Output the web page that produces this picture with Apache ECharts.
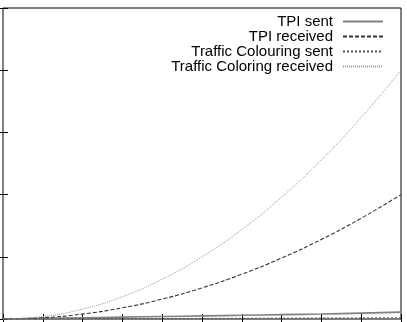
<!DOCTYPE html>
<html><head><meta charset="utf-8">
<script src="https://cdn.jsdelivr.net/npm/echarts@6/dist/echarts.min.js"></script>
<style>html,body{margin:0;padding:0;background:#fff}#c{width:407px;height:322px}</style>
</head><body><div id="c"></div>
<script>
const xValues = [0,1,2,3,4,5,6,7,8,9,10];
const tpiSent = [0,0.01,0.02,0.03,0.04,0.05,0.06,0.07,0.08,0.095,0.11];
const tpiReceived = [0,0.02,0.08,0.18,0.32,0.5,0.72,0.98,1.28,1.62,2.0];
const tcSent = [0,0.002,0.004,0.006,0.008,0.01,0.012,0.014,0.016,0.018,0.02];
const tcReceived = [0,0.04,0.16,0.36,0.64,1.0,1.44,1.96,2.56,3.24,4.0];
const names = ['TPI sent','TPI received','Traffic Colouring sent','Traffic Coloring received'];

const pair = arr => xValues.map((x,i)=>[x,arr[i]]);
const font = 'Liberation Sans, Arial, Helvetica, sans-serif';
const axisCommon = {
  min:0, interval:1, axisLabel:{show:false}, splitLine:{show:false},
  axisLine:{show:false},
  axisTick:{show:true, inside:true, length:5, lineStyle:{color:'#000', width:1}}
};
const chart = echarts.init(document.getElementById('c'), null, {renderer:'canvas'});
chart.setOption({
  animation:false,
  backgroundColor:'#fff',
  grid:{left:3, right:6, top:8, bottom:3, show:true, borderColor:'#000', borderWidth:1, backgroundColor:'transparent'},
  xAxis:[
    Object.assign({type:'value', max:10, position:'bottom'}, axisCommon),
    Object.assign({type:'value', max:10, position:'top'}, axisCommon)
  ],
  yAxis:[
    Object.assign({type:'value', max:5, position:'left'}, axisCommon),
    Object.assign({type:'value', max:5, position:'right'}, axisCommon)
  ],
  legend:{
    orient:'vertical', align:'right', right:23, top:14, itemGap:0, padding:0,
    itemWidth:40, itemHeight:12,
    itemStyle:{opacity:0},
    textStyle:{fontFamily:font, fontSize:15, color:'#000', lineHeight:12, padding:[0,5,0,0]},
    data:names
  },
  series:[
    {name:names[0], type:'line', data:pair(tpiSent), smooth:true, symbol:'none',
      lineStyle:{color:'#808080', width:1.6, type:'solid'}, itemStyle:{color:'#808080'}},
    {name:names[1], type:'line', data:pair(tpiReceived), smooth:true, symbol:'none',
      lineStyle:{color:'#333', width:1.1, type:[4,2]}, itemStyle:{color:'#333'}},
    {name:names[2], type:'line', data:pair(tcSent), smooth:true, symbol:'none',
      lineStyle:{color:'#555', width:1, type:[2,2]}, itemStyle:{color:'#555'}},
    {name:names[3], type:'line', data:pair(tcReceived), smooth:true, symbol:'none',
      lineStyle:{color:'#999', width:1, type:[1,1]}, itemStyle:{color:'#999'}}
  ]
});
</script></body></html>
